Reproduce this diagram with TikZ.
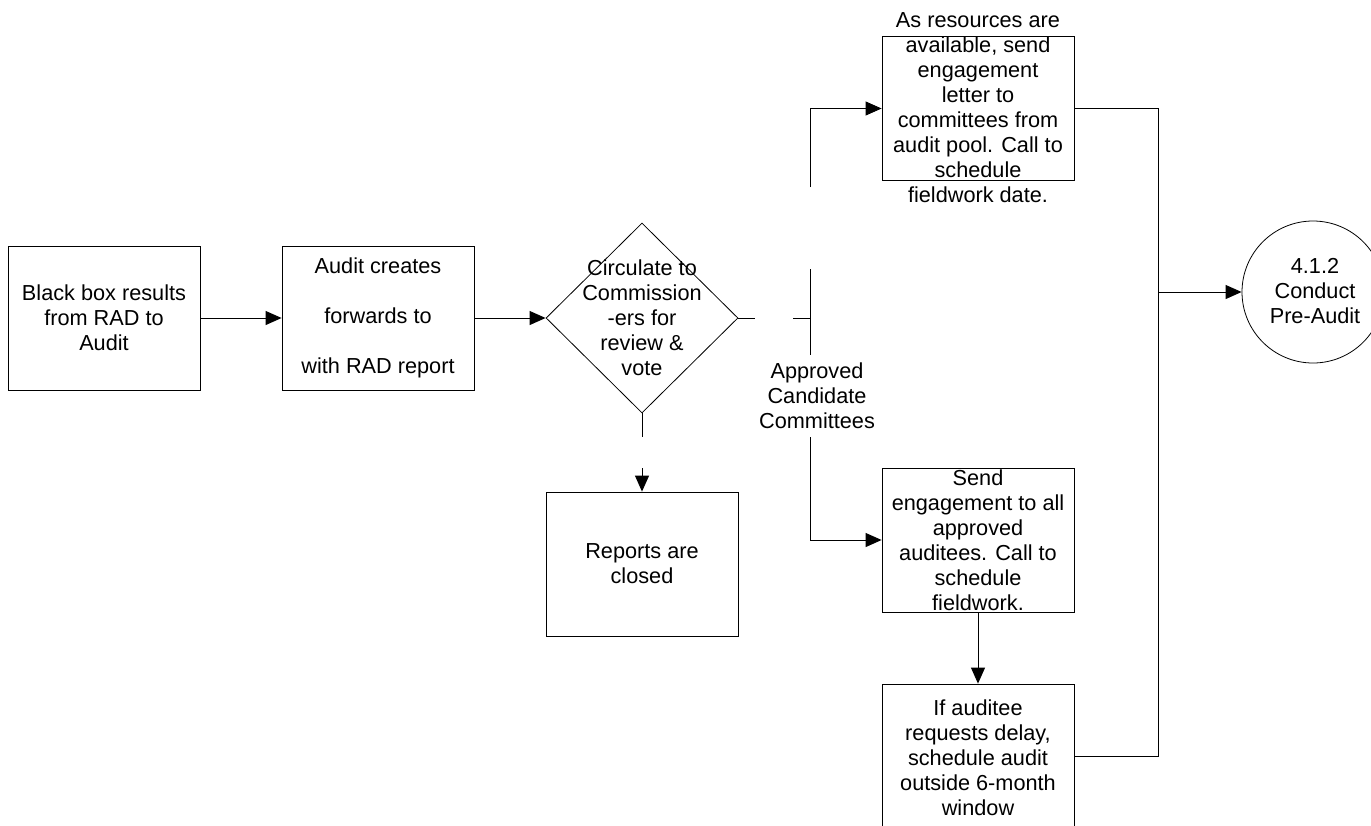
\documentclass[tikz,border=0pt]{standalone}
\usepackage{fontspec}
\setmainfont{Liberation Sans}
\usetikzlibrary{arrows.meta,shapes.geometric}
\begin{document}
\begin{tikzpicture}[x=1pt,y=-1pt,
  every node/.style={font=\fontsize{21.7}{25}\selectfont},
  box/.style={draw,line width=0.8pt,minimum width=192pt,minimum height=144pt,inner sep=0pt},
  txt/.style={align=center,inner sep=0pt},
  ln/.style={line width=0.9pt},
  arr/.style={ln,-{Triangle[length=16pt,width=14pt]}}]
\useasboundingbox (0,0) rectangle (1371,825);
\clip (0,0) rectangle (1371,825);
% nodes
\node[box,txt] (b1) at (104,318) {Black box results\\from RAD to\\Audit};
\node[box,txt] (b2) at (378,318) {Audit creates\\[25pt]forwards to\\[25pt]with RAD report};
\node[draw,line width=0.8pt,diamond,minimum width=192pt,minimum height=190pt,inner sep=0pt] (dia) at (642,318) {};
\node[txt] (diat) at (642,318) {Circulate to\\Commission\\-ers for\\review \&\\vote};
\node[box,txt,minimum width=192pt] (rep) at (642,564) {Reports are\\closed};
\node[box] (b4) at (978,108.5) {};
\node[txt] (b4t) at (978,107.5) {As resources are\\available, send\\engagement\\letter to\\committees from\\audit pool. Call to\\schedule\\fieldwork date.};
\node[box] (b3) at (978,540) {};
\node[txt] (b3t) at (978,540) {Send\\engagement to all\\approved\\auditees. Call to\\schedule\\fieldwork.};
\node[box] (b5) at (978,756) {};
\node[txt] (b5t) at (978,758) {If auditee\\requests delay,\\schedule audit\\outside 6-month\\window};
\node[draw,line width=0.8pt,circle,minimum size=142pt,inner sep=0pt] (c) at (1313,292) {};
\node[txt] (ct) at (1315,291) {4.1.2\\Conduct\\Pre-Audit};
\node[txt] (appr) at (817,396) {Approved\\Candidate\\Committees};
% coordinates
\coordinate (r1) at (755,318);
\coordinate (r2) at (793,318);
\coordinate (j) at (810,318);
\coordinate (vt) at (810,108.5);
\coordinate (vt2) at (810,187);
\coordinate (vm1) at (810,269);
\coordinate (vm2) at (810,355);
\coordinate (vb1) at (810,437);
\coordinate (vb) at (810,540);
\coordinate (d1) at (642,437);
\coordinate (d2) at (642,468);
\coordinate (k1) at (1158,108.5);
\coordinate (k2) at (1158,756);
\coordinate (k3) at (1158,292);
% connectors
\draw[arr] (b1.east) -- (b2.west);
\draw[arr] (b2.east) -- (dia.west);
\draw[ln] (dia.east) -- (r1);
\draw[ln] (r2) -- (j);
\draw[ln] (vm1) -- (vm2);
\draw[ln] (vt2) -- (vt);
\draw[arr] (vt) -- (b4.west);
\draw[ln] (vb1) -- (vb);
\draw[arr] (vb) -- (b3.west);
\draw[ln] (dia.south) -- (d1);
\draw[arr] (d2) -- (rep.north);
\draw[arr] (b3.south) -- (b5.north);
\draw[ln] (b4.east) -- (k1) -- (k2) -- (b5.east);
\draw[arr] (k3) -- (c.west);
\end{tikzpicture}
\end{document}
